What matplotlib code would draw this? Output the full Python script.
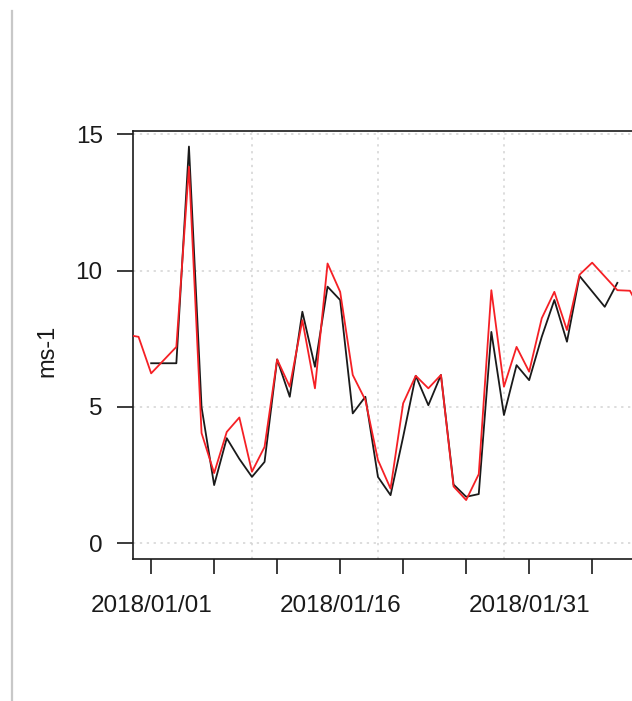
import matplotlib
matplotlib.use("Agg")
import matplotlib.pyplot as plt
import pandas as pd

plt.rcParams["font.family"] = ["Liberation Sans", "DejaVu Sans"]

# observed wind speed (black) and model (red), daily, ms-1
obs_dates = [
    "2018-01-01", "2018-01-03", "2018-01-04", "2018-01-05", "2018-01-06",
    "2018-01-07", "2018-01-08", "2018-01-09", "2018-01-10", "2018-01-11",
    "2018-01-12", "2018-01-13", "2018-01-14", "2018-01-15", "2018-01-16",
    "2018-01-17", "2018-01-18", "2018-01-19", "2018-01-20", "2018-01-21",
    "2018-01-22", "2018-01-23", "2018-01-24", "2018-01-25", "2018-01-26",
    "2018-01-27", "2018-01-28", "2018-01-29", "2018-01-30", "2018-01-31",
    "2018-02-01", "2018-02-02", "2018-02-03", "2018-02-04", "2018-02-06",
    "2018-02-07",
]
obs_ws = [
    6.60, 6.60, 14.55, 4.99, 2.13,
    3.85, 3.09, 2.43, 2.98, 6.74,
    5.37, 8.49, 6.47, 9.41, 8.92,
    4.76, 5.37, 2.43, 1.76, 3.90,
    6.14, 5.06, 6.17, 2.15, 1.70,
    1.80, 7.75, 4.70, 6.53, 5.98,
    7.57, 8.92, 7.39, 9.80, 8.67,
    9.55,
]

mod_dates = [
    "2017-12-30", "2017-12-31", "2018-01-01", "2018-01-03", "2018-01-04",
    "2018-01-05", "2018-01-06", "2018-01-07", "2018-01-08", "2018-01-09",
    "2018-01-10", "2018-01-11", "2018-01-12", "2018-01-13", "2018-01-14",
    "2018-01-15", "2018-01-16", "2018-01-17", "2018-01-18", "2018-01-19",
    "2018-01-20", "2018-01-21", "2018-01-22", "2018-01-23", "2018-01-24",
    "2018-01-25", "2018-01-26", "2018-01-27", "2018-01-28", "2018-01-29",
    "2018-01-30", "2018-01-31", "2018-02-01", "2018-02-02", "2018-02-03",
    "2018-02-04", "2018-02-05", "2018-02-07", "2018-02-08", "2018-02-09",
]
mod_ws = [
    7.65, 7.57, 6.23, 7.20, 13.81,
    4.04, 2.57, 4.08, 4.61, 2.62,
    3.53, 6.74, 5.74, 8.18, 5.68,
    10.26, 9.22, 6.17, 5.25, 3.05,
    2.00, 5.13, 6.14, 5.68, 6.17,
    2.08, 1.58, 2.53, 9.28, 5.74,
    7.20, 6.29, 8.25, 9.22, 7.82,
    9.85, 10.29, 9.28, 9.26, 8.40,
]

tick_dates = ["2018-01-01", "2018-01-06", "2018-01-11", "2018-01-16",
              "2018-01-21", "2018-01-26", "2018-01-31", "2018-02-05"]
tick_labels = ["2018/01/01", "", "", "2018/01/16", "", "", "2018/01/31", ""]
grid_dates = ["2018-01-09", "2018-01-19", "2018-01-29"]
y_ticks = [0, 5, 10, 15]

obs_x = pd.to_datetime(obs_dates)
mod_x = pd.to_datetime(mod_dates)

fig = plt.figure(figsize=(6.32, 7.01), dpi=100)
ax = fig.add_axes([132.5 / 632, 1 - 559 / 701, (636 - 132.5) / 632, (559 - 130.7) / 701])

# R-style 4% padding around the observed period and c(0, max)
pad = pd.Timedelta(days=1.48)
ax.set_xlim(obs_x[0] - pad, obs_x[-1] + pad)
ymax = max(obs_ws)
ax.set_ylim(-0.04 * ymax, ymax * 1.04)

for d in grid_dates:
    ax.axvline(pd.Timestamp(d), color="#d3d3d3", lw=1.1, ls=(0, (1.5, 3)), zorder=0)
for v in y_ticks:
    ax.axhline(v, color="#d3d3d3", lw=1.1, ls=(0, (1.5, 3)), zorder=0)

ax.plot(obs_x, obs_ws, color="#1a1a1a", lw=1.3, zorder=3)
ax.plot(mod_x, mod_ws, color="#f52025", lw=1.3, zorder=4)

ax.set_xticks(pd.to_datetime(tick_dates))
ax.set_xticklabels(tick_labels)
ax.set_yticks(y_ticks)
ax.set_yticklabels([str(v) for v in y_ticks])

for s in ax.spines.values():
    s.set_linewidth(1.2)
    s.set_color("#1a1a1a")

ax.tick_params(axis="x", length=11, width=1.2, pad=15, labelsize=17.5,
               colors="#1a1a1a")
ax.tick_params(axis="y", length=11.5, width=1.2, pad=10, labelsize=17.5,
               colors="#1a1a1a")

fig.text(47 / 632, 1 - 351 / 701, "ms-1", rotation=90, ha="center",
         va="center", fontsize=17, color="#1a1a1a")

# thin grey divider on the left edge
fig.add_artist(plt.Line2D([11.5 / 632, 11.5 / 632], [1 - 11 / 701, 0],
                          color="#c8c8c8", lw=1.6))

fig.savefig("out.png", dpi=100)
